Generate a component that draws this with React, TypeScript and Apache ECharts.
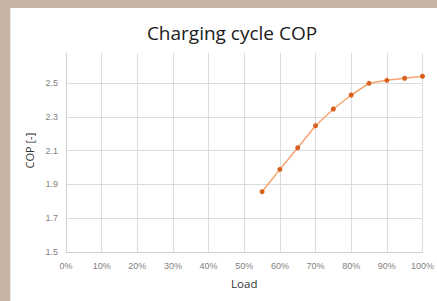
import React, { useEffect, useRef } from "react";
import * as echarts from "echarts";

const loads = [0.55, 0.6, 0.65, 0.7, 0.75, 0.8, 0.85, 0.9, 0.95, 1.0];
const cop = [1.857, 1.989, 2.117, 2.247, 2.346, 2.429, 2.498, 2.516, 2.528, 2.54];
const titleText = "Charging cycle COP";
const xName = "Load";
const yName = "COP [-]";

export default function App() {
  const ref = useRef<HTMLDivElement>(null);
  useEffect(() => {
    document.body.style.margin = "0";
    const chart = echarts.init(ref.current!, null, { renderer: "svg" });
    const labelStyle = { color: "#7f7f7f", fontSize: 9, fontFamily: "Liberation Sans" };
    chart.setOption({
      animation: false,
      backgroundColor: "#ffffff",
      grid: { left: 66, right: 8, top: 49.2, bottom: 49 },
      xAxis: {
        type: "value",
        min: 0,
        max: 1,
        interval: 0.1,
        name: xName,
        nameLocation: "middle",
        nameGap: 25,
        nameTextStyle: { color: "#333", fontSize: 11.5, fontFamily: "Open Sans" },
        axisLine: { show: true, lineStyle: { color: "#d0d0d0", width: 1 } },
        axisTick: { show: false },
        splitLine: { show: true, lineStyle: { color: "#dcdcdc", width: 1 } },
        axisLabel: {
          ...labelStyle,
          margin: 9,
          formatter: (v: number) => Math.round(v * 100) + "%",
        },
      },
      yAxis: {
        type: "value",
        min: 1.5,
        max: 2.7,
        interval: 0.2,
        name: yName,
        nameLocation: "middle",
        nameGap: 26,
        nameRotate: 90,
        nameTextStyle: { color: "#333", fontSize: 11, fontFamily: "Open Sans" },
        axisLine: { show: true, lineStyle: { color: "#d0d0d0", width: 1 } },
        axisTick: { show: false },
        splitLine: { show: true, lineStyle: { color: "#dcdcdc", width: 1 } },
        axisLabel: {
          ...labelStyle,
          margin: 8,
          formatter: (v: number) => v.toFixed(1),
        },
      },
      series: [
        {
          type: "line",
          data: loads.map((x, i) => [x, cop[i]]),
          lineStyle: { color: "#f4a46e", width: 1.5 },
          itemStyle: { color: "#d9601c" },
          symbol: "circle",
          symbolSize: 5,
          showSymbol: true,
        },
      ],
      graphic: [
        { type: "rect", z: 100, shape: { x: 0, y: 0, width: 437, height: 53 }, style: { fill: "#ffffff" } },
        { type: "rect", z: 101, shape: { x: 0, y: 0, width: 437, height: 8 }, style: { fill: "#c5b3a6" } },
        { type: "rect", z: 101, shape: { x: 0, y: 0, width: 10, height: 301 }, style: { fill: "#c5b3a6" } },
        { type: "rect", z: 101, shape: { x: 10, y: 8, width: 1, height: 293 }, style: { fill: "#ebe6e2" } },
        {
          type: "text",
          z: 102,
          x: 232,
          y: 33,
          style: {
            text: titleText,
            fill: "#202020",
            fontSize: 19,
            fontFamily: "Open Sans",
            align: "center",
            verticalAlign: "middle",
          },
        },
      ],
    });
    return () => chart.dispose();
  }, []);
  return <div ref={ref} style={{ width: 437, height: 301 }} />;
}
